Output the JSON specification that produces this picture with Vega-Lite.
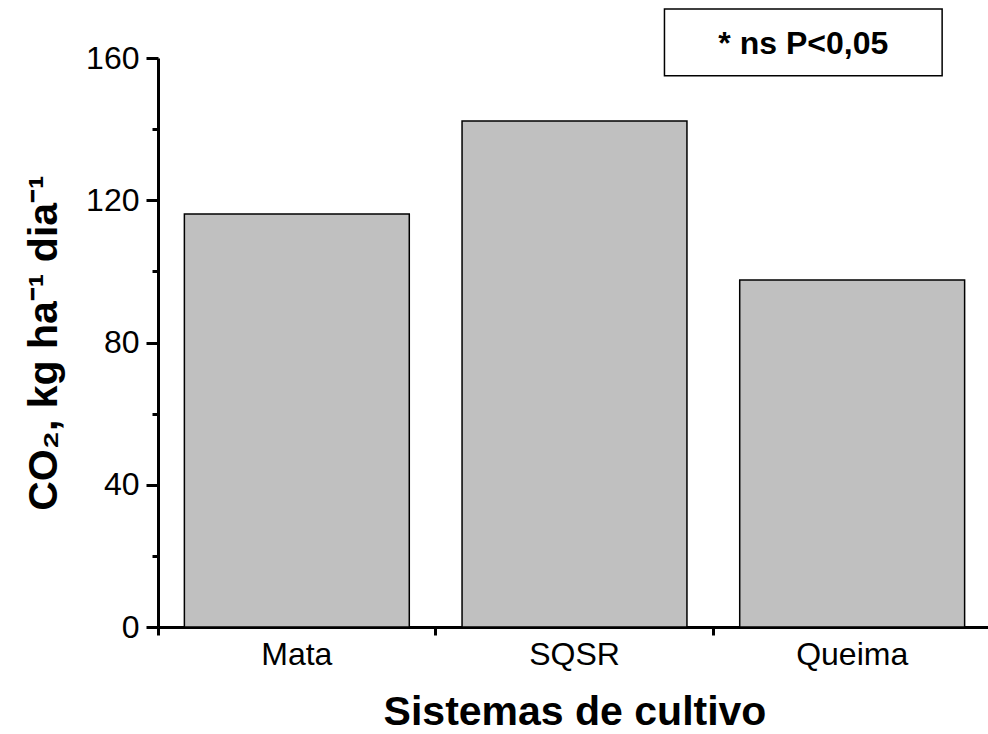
{
  "$schema": "https://vega.github.io/schema/vega-lite/v6.json",
  "width": 833,
  "height": 569,
  "autosize": "none",
  "padding": {"left": 158, "top": 58, "right": 0, "bottom": 107},
  "background": "white",
  "config": {
    "view": {"stroke": null},
    "font": "Liberation Sans",
    "axis": {"domainWidth": 3, "tickWidth": 3, "domainColor": "black", "tickColor": "black"}
  },
  "layer": [
    {
      "data": {"values": [
        {"sistema": "Mata", "co2": 116.1},
        {"sistema": "SQSR", "co2": 142.3},
        {"sistema": "Queima", "co2": 97.6}
      ]},
      "mark": {"type": "bar", "fill": "#c0c0c0", "stroke": "black", "strokeWidth": 1.5, "width": {"band": 0.81}},
      "encoding": {
        "x": {
          "field": "sistema", "type": "nominal", "sort": ["Mata", "SQSR", "Queima"],
          "scale": {"paddingInner": 0, "paddingOuter": 0},
          "axis": {
            "title": "Sistemas de cultivo", "titleFontSize": 41, "titleFontWeight": "bold", "titleColor": "black",
            "titlePadding": 22,
            "labelFontSize": 32, "labelColor": "black", "labelAngle": 0, "labelPadding": 4,
            "bandPosition": 0,
            "tickSize": 8, "tickWidth": 3, "tickColor": "black",
            "domainColor": "black", "domainWidth": 3
          }
        },
        "y": {
          "field": "co2", "type": "quantitative",
          "scale": {"domain": [0, 160], "nice": false},
          "axis": {
            "title": "CO₂, kg ha⁻¹ dia⁻¹", "titleFontSize": 41, "titleFontWeight": "bold", "titleColor": "black",
            "titlePadding": 20,
            "values": [0, 20, 40, 60, 80, 100, 120, 140, 160],
            "labelExpr": "datum.value % 40 === 0 ? datum.label : ''",
            "labelFontSize": 32, "labelColor": "black", "labelPadding": 7,
            "tickSize": {"condition": {"test": "datum.value % 40 === 0", "value": 12}, "value": 6},
            "tickWidth": 3, "tickColor": "black", "grid": false,
            "domainColor": "black", "domainWidth": 3
          }
        }
      }
    },
    {
      "data": {"values": [{"x1": 1.824, "x2": 2.824, "y1": 155, "y2": 173.8, "texto": "* ns P<0,05", "xt": 2.324, "yt": 164}]},
      "layer": [
        {
          "mark": {"type": "rect", "fill": "white", "stroke": "black", "strokeWidth": 1.5, "clip": false},
          "encoding": {
            "x": {"field": "x1", "type": "quantitative", "scale": {"domain": [0, 3], "nice": false, "zero": false}, "axis": null},
            "x2": {"field": "x2"},
            "y": {"field": "y1", "type": "quantitative", "scale": {"domain": [0, 160], "nice": false, "zero": false}, "axis": null},
            "y2": {"field": "y2"}
          }
        },
        {
          "mark": {"type": "text", "fontSize": 32, "fontWeight": "bold", "color": "black", "baseline": "middle", "align": "center", "clip": false},
          "encoding": {
            "x": {"field": "xt", "type": "quantitative", "scale": {"domain": [0, 3], "nice": false, "zero": false}, "axis": null},
            "y": {"field": "yt", "type": "quantitative", "scale": {"domain": [0, 160], "nice": false, "zero": false}, "axis": null},
            "text": {"field": "texto"}
          }
        }
      ]
    }
  ],
  "resolve": {"scale": {"x": "independent", "y": "independent"}}
}
